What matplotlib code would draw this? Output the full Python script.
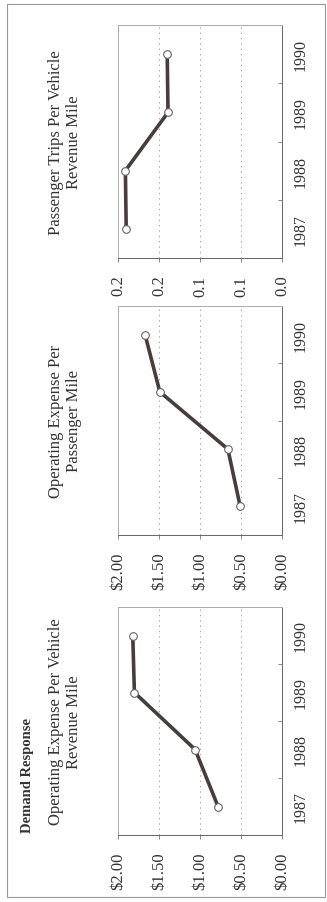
import matplotlib
matplotlib.use('Agg')
import matplotlib.pyplot as plt
from matplotlib.patches import Rectangle

plt.rcParams['font.family'] = ['Liberation Serif', 'DejaVu Serif']

years = ['1987', '1988', '1989', '1990']

# Operating expense per vehicle revenue mile ($)
exp_vehicle_mile = [0.78, 1.06, 1.80, 1.82]
# Operating expense per passenger mile ($)
exp_passenger_mile = [0.51, 0.66, 1.49, 1.67]
# Passenger trips per vehicle revenue mile
trips_vehicle_mile = [0.190, 0.191, 0.139, 0.140]

dollar_ticks = [0.0, 0.5, 1.0, 1.5, 2.0]
dollar_labels = ['$0.00', '$0.50', '$1.00', '$1.50', '$2.00']
trip_ticks = [0.0, 0.05, 0.10, 0.15, 0.20]
trip_labels = ['0.0', '0.1', '0.1', '0.2', '0.2']

panels = [
    ('Operating Expense Per Vehicle\nRevenue Mile', exp_vehicle_mile, dollar_ticks, dollar_labels, 608, 836),
    ('Operating Expense Per\nPassenger Mile', exp_passenger_mile, dollar_ticks, dollar_labels, 307, 536),
    ('Passenger Trips Per Vehicle\nRevenue Mile', trips_vehicle_mile, trip_ticks, trip_labels, 26, 259),
]

W, H = 327, 903
fig = plt.figure(figsize=(W / 100, H / 100), dpi=100)
fig.patch.set_facecolor('white')

text_col = '#333333'
line_col = '#4a3c3c'

# page frame
fig.patches.append(Rectangle((7 / W, 1 - 898 / H), 318 / W, 893 / H, transform=fig.transFigure,
                             fill=False, edgecolor='#999999', linewidth=0.8))

fig.text(28 / W, 1 - 833 / H, 'Demand Response', rotation=90, ha='center', va='bottom',
         fontsize=10.5, fontweight='bold', color=text_col)

for title, vals, ticks, labels, top, bottom in panels:
    ax = fig.add_axes([118 / W, 1 - bottom / H, 164 / W, (bottom - top) / H])
    pos = list(range(len(years)))
    ax.plot(vals, pos, color=line_col, linewidth=2.6, marker='o', markersize=5.5,
            markerfacecolor='white', markeredgecolor='#666666', markeredgewidth=0.8, zorder=3)
    ax.set_xlim(ticks[-1], ticks[0])
    ax.set_ylim(-0.5, len(years) - 0.5)

    ax.set_xticks(ticks)
    ax.set_xticklabels(labels, rotation=90, fontsize=12, color=text_col)
    ax.tick_params(axis='x', direction='out', length=3, width=0.6, color='#777777', pad=9)
    for t in ticks[1:-1]:
        ax.axvline(t, color='#aaaaaa', linewidth=0.7, linestyle=(0, (1.5, 4)), zorder=1)

    ax.yaxis.tick_right()
    ax.set_yticks(pos)
    ax.set_yticklabels(years, rotation=90, fontsize=11.5, color=text_col, va='center')
    ax.tick_params(axis='y', which='major', length=0, pad=8)
    ax.set_yticks([0.5, 1.5, 2.5], minor=True)
    ax.tick_params(axis='y', which='minor', direction='in', length=3, width=0.6, color='#777777')

    for s in ax.spines.values():
        s.set_color('#aaaaaa')
        s.set_linewidth(0.7)
    ax.spines['bottom'].set_color('#666666')
    ax.spines['right'].set_color('#666666')

    fig.text(65 / W, 1 - (top + bottom) / 2 / H, title, rotation=90, ha='center', va='center',
             multialignment='center', fontsize=12, color=text_col, linespacing=1.15)

fig.savefig('out.png', dpi=100)
